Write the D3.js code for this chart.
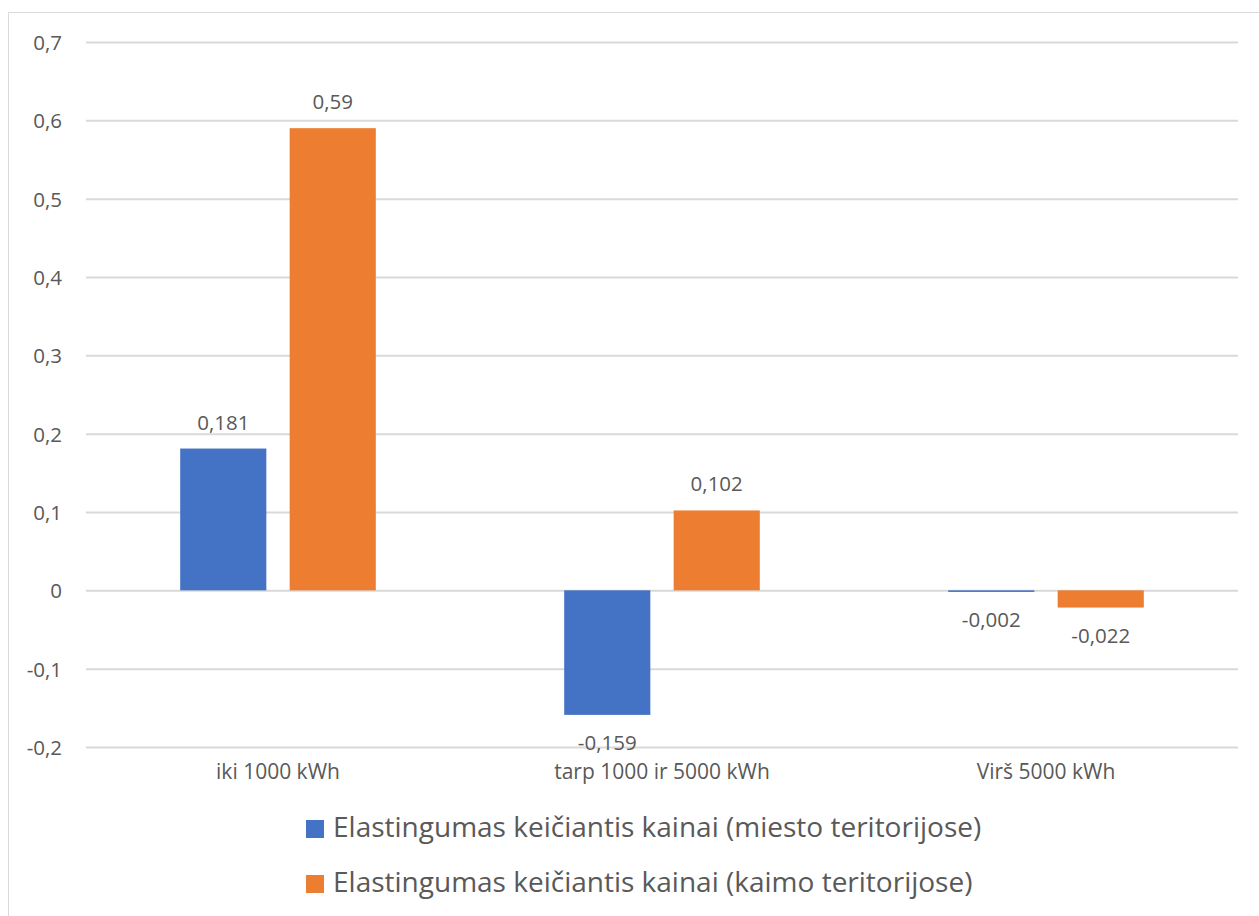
<!DOCTYPE html>
<html>
<head>
<meta charset="utf-8">
<script src="https://cdn.jsdelivr.net/npm/d3@7"></script>
<style>
  html, body { margin: 0; padding: 0; background: #fff; }
  svg { display: block; }
  text { font-family: "Open Sans", "Noto Sans", sans-serif; fill: #595959; }
</style>
</head>
<body>
<svg id="chart" width="1259" height="916"></svg>
<script>
// Price elasticity by consumption band
const categories = ["iki 1000 kWh", "tarp 1000 ir 5000 kWh", "Virš 5000 kWh"];
const seriesNames = [
  "Elastingumas keičiantis kainai (miesto teritorijose)",
  "Elastingumas keičiantis kainai (kaimo teritorijose)"
];
const urbanValues = [0.181, -0.159, -0.002];
const ruralValues = [0.59, 0.102, -0.022];
const yTicks = [-0.2, -0.1, 0, 0.1, 0.2, 0.3, 0.4, 0.5, 0.6, 0.7];
const yTickLabels = ["-0,2", "-0,1", "0", "0,1", "0,2", "0,3", "0,4", "0,5", "0,6", "0,7"];
const colors = ["#4472c4", "#ed7d31"];

const series = [urbanValues, ruralValues];
const fmt = v => String(v).replace(".", ",");

const svg = d3.select("#chart");

// outer chart frame
svg.append("path")
  .attr("d", "M8.5,916 V12.5 H1259")
  .attr("fill", "none")
  .attr("stroke", "#d9d9d9")
  .attr("stroke-width", 1);

const plot = { left: 86, right: 1238, top: 42, bottom: 747 };

const y = d3.scaleLinear().domain([-0.2, 0.7]).range([plot.bottom, plot.top]);
const x0 = d3.scaleBand().domain(categories).range([plot.left, plot.right]).paddingInner(0).paddingOuter(0);
const x1 = d3.scaleBand().domain([0, 1]).range([0, 195.6]).paddingInner(0.213).paddingOuter(0);
const groupOffset = (x0.bandwidth() - 195.6) / 2;

// gridlines and value axis labels
const yAxis = d3.axisLeft(y).tickValues(yTicks).tickSize(-(plot.right - plot.left)).tickPadding(24)
  .tickFormat((d, i) => yTickLabels[i]);
const gy = svg.append("g").attr("transform", `translate(${plot.left},0)`).call(yAxis);
gy.select(".domain").remove();
gy.selectAll(".tick line").attr("stroke", "#d9d9d9").attr("stroke-width", 2);
gy.selectAll(".tick text").attr("font-size", 20.5).attr("fill", "#595959").attr("dy", "0.36em")
  .style("font-family", "'Open Sans', 'Noto Sans', sans-serif");

// bars
const groups = svg.append("g").selectAll("g").data(categories).join("g")
  .attr("transform", d => `translate(${x0(d) + groupOffset},0)`);

groups.selectAll("rect")
  .data((c, i) => series.map((s, k) => ({ k, v: s[i] })))
  .join("rect")
  .attr("x", d => x1(d.k))
  .attr("width", x1.bandwidth())
  .attr("y", d => y(Math.max(0, d.v)))
  .attr("height", d => Math.max(1, Math.abs(y(d.v) - y(0))))
  .attr("fill", d => colors[d.k])
  .attr("opacity", d => Math.abs(y(d.v) - y(0)) < 1.5 ? 0.45 : 1);

// value labels
groups.selectAll("text.val")
  .data((c, i) => series.map((s, k) => ({ k, v: s[i] })))
  .join("text")
  .attr("class", "val")
  .attr("x", d => x1(d.k) + x1.bandwidth() / 2)
  .attr("y", d => d.v >= 0 ? y(d.v) - 19 : y(d.v) + 35)
  .attr("text-anchor", "middle")
  .attr("font-size", 20.5)
  .text(d => fmt(d.v));

// category labels
svg.append("g").selectAll("text").data(categories).join("text")
  .attr("x", d => x0(d) + x0.bandwidth() / 2)
  .attr("y", 779)
  .attr("text-anchor", "middle")
  .attr("font-size", 21)
  .text(d => d);

// legend
const legend = svg.append("g").selectAll("g").data(seriesNames).join("g")
  .attr("transform", (d, i) => `translate(306,${820 + i * 55})`);
legend.append("rect").attr("width", 18).attr("height", 18).attr("fill", (d, i) => colors[i]);
legend.append("text").attr("x", 27).attr("y", 17).attr("font-size", 28).text(d => d);
</script>
</body>
</html>
